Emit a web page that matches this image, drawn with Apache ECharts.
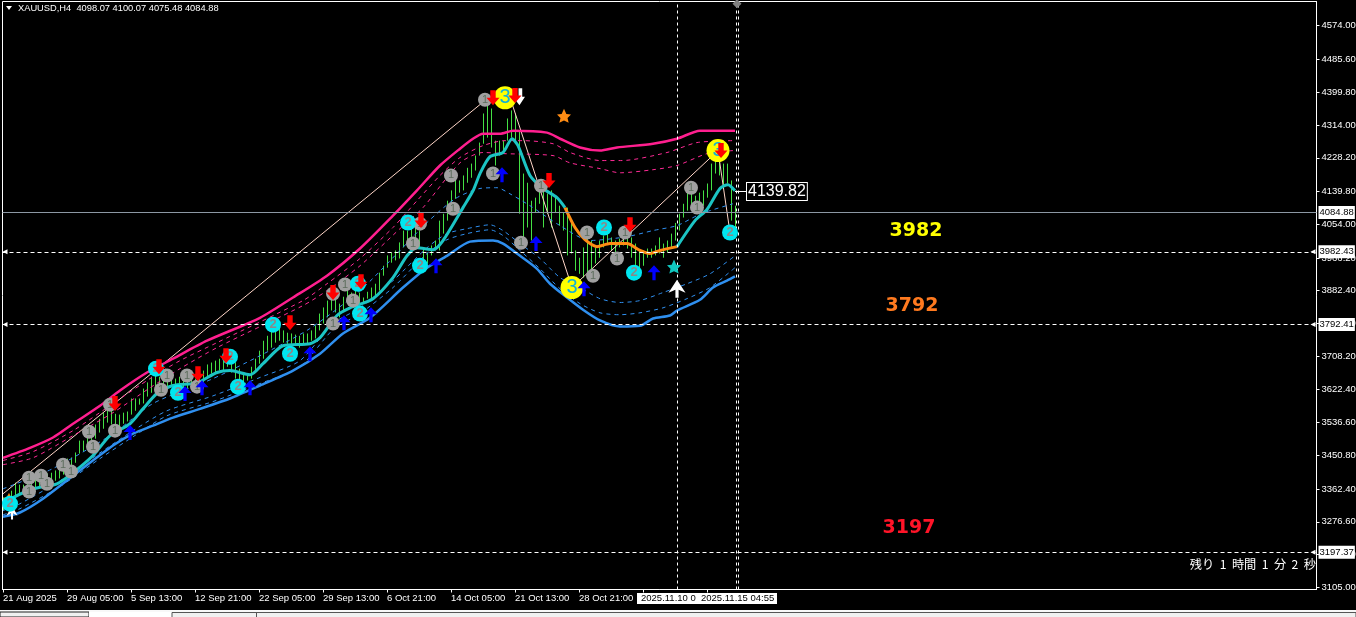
<!DOCTYPE html>
<html><head><meta charset="utf-8">
<style>html,body{margin:0;padding:0;background:#000;overflow:hidden}#c{width:1356px;height:617px}</style>
<script src="https://cdn.jsdelivr.net/npm/echarts@6/dist/echarts.min.js"></script>
</head><body><div id="c"></div>
<script>
const titleText = 'XAUUSD,H4  4098.07 4100.07 4075.48 4084.88';
const countdownText = '残り  1  時間  1  分  2  秒';
const priceTicks = [4574,4485.6,4399.8,4314,4228.2,4139.8,4054,3966.2,3882.4,3796.6,3708.2,3622.4,3536.6,3450.8,3362.4,3276.6,3190.8,3105];
const timeTickBars = [0,16,32,48,64,80,96,112,128,144,160,176];
const timeLabels = ['21 Aug 2025','29 Aug 05:00','5 Sep 13:00','12 Sep 21:00','22 Sep 05:00','29 Sep 13:00','6 Oct 21:00','14 Oct 05:00','21 Oct 13:00','28 Oct 21:00'];
const highs = [3340,3345,3358,3379,3374,3374,3379,3384,3395,3397,3400,3403,3405,3411,3421,3431,3442,3445,3458,3489,3489,3497,3520,3531,3546,3562,3572,3567,3559,3557,3562,3565,3599,3599,3599,3625,3641,3656,3667,3656,3651,3651,3656,3651,3656,3646,3651,3659,3651,3667,3672,3688,3693,3698,3703,3709,3719,3703,3693,3677,3667,3662,3682,3703,3724,3750,3763,3777,3782,3784,3777,3771,3769,3766,3763,3769,3769,3777,3790,3821,3837,3855,3873,3860,3847,3865,3881,3876,3881,3876,3863,3878,3889,3899,3928,3946,3973,3981,3986,4007,4038,4038,4046,4046,4038,3991,3981,3999,4012,4064,4082,4116,4143,4176,4169,4182,4202,4213,4234,4268,4344,4378,4357,4273,4273,4273,4331,4352,4344,4299,4187,4163,4116,4124,4143,4143,4135,4143,4129,4103,4085,4098,4064,3986,3967,3994,4020,4012,3994,4012,4025,4033,4020,4012,4017,4033,4025,4020,4004,3986,3986,3991,3991,3999,4020,4004,4012,4030,4058,4082,4108,4137,4155,4129,4137,4143,4161,4213,4221,4221,4213,4213,4169,4103];
const lows = [3306,3311,3324,3340,3348,3348,3350,3358,3363,3369,3369,3374,3379,3384,3390,3400,3405,3418,3431,3455,3460,3468,3481,3494,3510,3520,3536,3531,3528,3520,3533,3539,3557,3567,3583,3586,3604,3614,3625,3614,3620,3625,3635,3630,3630,3625,3625,3630,3620,3635,3641,3656,3664,3667,3672,3672,3682,3667,3651,3641,3641,3646,3651,3667,3690,3703,3724,3732,3745,3750,3745,3742,3742,3737,3732,3740,3742,3750,3756,3777,3795,3811,3829,3824,3811,3829,3847,3850,3855,3847,3847,3860,3860,3868,3881,3920,3941,3954,3960,3965,3994,3994,3986,3999,3991,3954,3952,3973,3986,3986,4030,4064,4098,4121,4137,4143,4163,4176,4195,4234,4265,4281,4255,4208,4234,4242,4273,4281,4273,4082,4012,4046,4012,4085,4108,4046,4082,4046,4085,4051,4038,3973,3978,3933,3925,3915,3925,3933,3952,3967,3994,4004,3986,3978,3994,3999,3991,3967,3941,3941,3946,3967,3967,3973,3978,3967,3981,3991,4012,4038,4072,4090,4098,4098,4098,4103,4124,4143,4187,4182,4155,4161,4064,4046];

const upperBand = [[0,3444],[6.75,3470],[12.5,3497],[17.5,3533],[24.25,3580],[29.25,3620],[36,3667],[42.5,3703],[51,3750],[64.25,3810],[72.5,3863],[81,3920],[89.25,3991],[97.5,4077],[103.5,4143],[109.25,4208],[114.25,4252],[117.5,4278],[120,4291],[124.25,4291],[127.5,4299],[136,4294],[139.25,4278],[144.25,4255],[149.25,4247],[153.5,4255],[162.5,4265],[168.5,4278],[174.25,4299],[183,4299]];
const upperDash1 = [[0,3437],[7.5,3460],[17.5,3515],[27.5,3586],[36.75,3651],[44.25,3698],[53.5,3745],[75,3855],[81,3899],[89.25,3965],[97.5,4046],[103.5,4116],[109.25,4182],[114.25,4229],[120,4260],[125.5,4273],[130,4273],[137.5,4265],[141.75,4242],[149.25,4221],[154.75,4221],[166,4242],[173.5,4268],[182.5,4273]];
const upperDash2 = [[0,3426],[7.5,3444],[17.5,3502],[27.5,3562],[36.75,3627],[44.25,3677],[53.5,3732],[75,3842],[81,3881],[89.25,3946],[99.25,4043],[105,4098],[114.25,4215],[120,4242],[125.5,4239],[137.5,4234],[141.75,4215],[149.25,4200],[154.25,4189],[162.5,4197],[168.5,4208],[176,4239],[182.5,4247]];
const midRising = [[0,3324],[2.5,3340],[7.5,3363],[13.5,3376],[17.5,3405],[22.5,3450],[26.75,3502],[31.75,3533],[35,3572],[38.5,3612],[42.5,3633],[48.5,3640],[53.5,3667],[56.75,3672],[61.75,3661],[65,3690],[70,3737],[76.75,3742],[79.25,3758],[83.5,3816],[86.75,3836],[92.5,3860],[97.5,3915],[101,3972],[103.5,3993],[107.5,3988],[110,4012],[115,4098],[117.5,4142],[119.25,4187],[121.75,4231],[125,4242],[127.25,4278],[128.75,4260],[131.75,4182],[135,4148],[138.5,4124],[140.5,4098]];
const midFlat = [[140.5,4098],[143,4046],[145.5,4014],[148.5,3996],[151.75,4004],[156,4004],[159.25,3986],[161.75,3978],[164.25,3986],[168.5,3996]];
const midLast = [[168.5,3996],[173,4064],[176,4093],[179.25,4148],[181.25,4158],[183,4142]];
const lowerBand = [[0,3290],[4.25,3301],[10,3337],[17.5,3397],[27.5,3476],[32.5,3507],[37.5,3528],[42.5,3549],[49.25,3572],[56.75,3599],[64.25,3633],[72.5,3672],[79.25,3716],[85,3769],[91.75,3810],[100,3889],[106,3941],[111,3972],[116.75,4009],[122.5,4012],[125,4004],[129.25,3972],[133.5,3938],[136.75,3899],[141,3863],[145,3831],[149.25,3803],[154.25,3787],[159.25,3789],[162.5,3808],[166.75,3816],[168.5,3829],[174.25,3857],[177.5,3889],[181,3907],[183,3918]];
const lowerDashA = [[0,3363],[12.5,3416],[27.5,3507],[37.5,3586],[52.5,3651],[64.25,3711],[76.75,3782],[89.25,3881],[99.25,3986],[106,4059],[113,4121],[119.25,4148],[123.5,4150],[126.75,4134],[131.75,4103],[139.25,4051],[146.75,4012],[156,4022],[162.5,4038],[168.5,4051],[173.5,4077],[176.75,4090],[182.5,4108]];
const lowerDashB = [[0,3306],[4.25,3324],[14.25,3384],[24.25,3457],[32.5,3515],[41,3567],[52.5,3606],[64.25,3654],[74.25,3698],[82.5,3795],[89.25,3836],[97.5,3907],[106,3993],[111,4030],[116,4043],[121.75,4053],[125,4038],[129.25,4004],[134.25,3965],[139.25,3915],[144.25,3889],[149.25,3860],[154.25,3850],[159.25,3855],[165,3876],[171,3899],[176.75,3925],[183,3972]];
const lowerDashC = [[0,3295],[4.25,3311],[14.25,3369],[24.25,3442],[32.5,3499],[41,3554],[52.5,3591],[64.25,3638],[74.25,3682],[82.5,3779],[89.25,3821],[97.5,3889],[106,3978],[111,4014],[116,4030],[121.75,4040],[125,4025],[129.25,3986],[134.25,3938],[139.25,3886],[144.25,3847],[149.25,3823],[154.25,3818],[159.25,3823],[165,3836],[171,3860],[176.75,3889],[183,3941]];
const zigzag = [[0,3350],[38,3672],[120.5,4378],[127,4378],[142.25,3889],[178.75,4247],[181.75,4033]];

const wave1Marks = [[6.5,3392],[6.5,3356],[9.5,3397],[11,3376],[15,3426],[17,3408],[21.5,3512],[22.5,3473],[28,3515],[26.75,3583],[41,3659],[39.5,3622],[46,3659],[48.5,3630],[82.5,3795],[82.5,3873],[85.5,3897],[87.5,3855],[102.5,4004],[112.5,4095],[104.25,4056],[112,4182],[120.5,4380],[122.5,4187],[129.5,4006],[134.5,4155],[153.5,3965],[147.5,3920],[146,4033],[155.5,4033],[172,4150],[173.5,4098]];
const wave2Marks = [[1.75,3324],[38.25,3677],[43.75,3614],[58.75,3630],[56.75,3708],[67.5,3792],[71.75,3716],[88.75,3899],[89.25,3821],[101.25,4059],[104.25,3946],[150.25,4046],[157.75,3928],[181.75,4033]];
const wave3Marks = [[125.5,4385],[142.25,3889],[178.75,4247]];
const sellArrows = [[39,3682],[28,3586],[55.75,3711],[48.75,3664],[71.75,3797],[82.5,3876],[89.5,3904],[104.5,4064],[122.5,4385],[128,4391],[136.5,4169],[156.75,4053],[179.5,4247]];
const buyArrows = [[31.75,3510],[45.5,3612],[49.75,3627],[61.75,3627],[76.75,3716],[85.25,3797],[92,3818],[108.25,3946],[124.75,4184],[133.25,4004],[145.25,3886],[162.75,3928]];
const orangeStars = [[140.25,4338]];
const tealStars = [[167.75,3944]];
const whiteUp = [[168.5,3886]];
const whiteDown = [[129,4388]];
const cornerUp = [[2.25,3301]];
const cornerStar = [[1.5,3337]];

const currentPrice = 4084.88;
const levels = [3982.43, 3792.41, 3197.37];
const levelNames = [['3982',228.25,4037,'#ffff00'],['3792',227.25,3841,'#ff7a1f'],['3197',226.5,3261,'#ff1428']];
const timeLines = [168.5, 183.25, 183.75];
const maValue = 4139.82;

const UI = 'Liberation Sans';
function lineS(data,color,width,dash,z){
  return {type:'line',data:data,symbol:'none',smooth:0.25,silent:true,z:z,clip:true,
    lineStyle:{color:color,width:width,type:dash?[4,4]:'solid'}};
}
function dot(data,color,size,text,fc,fs,z,fw){
  return {type:'scatter',data:data,symbol:'circle',symbolSize:size,z:z,silent:true,
    itemStyle:{color:color,opacity:1},
    label:{show:true,position:'inside',formatter:text,color:fc,fontSize:fs,fontFamily:UI,fontWeight:fw||'normal'}};
}
function mark(data,path,size,color,z,extra){
  return Object.assign({type:'scatter',data:data,symbol:path,symbolSize:size,z:z,silent:true,itemStyle:{color:color,opacity:1}},extra||{});
}
const downArrow='path://M3.5,0H8.5V7H12L6,14L0,7H3.5Z';
const upArrow='path://M4.5,15V7H0L6,0L12,7H7.5V15Z';
const bigUp='path://M6.5,18V10L0,13L8,0L16,13L9.5,10V18Z';
const star5='path://M6,0L8,4.5L12,5L9,8L10,12L6,10L2,12L3,8L0,5L4,4.5Z';

const chart=echarts.init(document.getElementById('c'),null,{renderer:'canvas',width:1356,height:617});
chart.setOption({
  animation:false,backgroundColor:'#000',
  title:{text:titleText,left:18,top:4,padding:0,textStyle:{color:'#fff',fontSize:9.3,fontWeight:'normal',fontFamily:UI}},
  grid:{left:2.5,right:39.5,top:1.5,bottom:27.5,show:true,borderColor:'#fff',borderWidth:1,backgroundColor:'#000',outerBoundsMode:'none'},
  xAxis:{type:'value',min:-0.125,max:328.375,splitLine:{show:false},
    axisLine:{show:true,onZero:false,lineStyle:{color:'#fff'}},
    axisTick:{show:true,length:3,customValues:timeTickBars,lineStyle:{color:'#fff'}},
    axisLabel:{show:true,customValues:timeTickBars.slice(0,timeLabels.length),align:'left',margin:4,color:'#fff',fontSize:9.5,fontFamily:UI,
      formatter:v=>timeLabels[timeTickBars.indexOf(v)]||''}},
  yAxis:{type:'value',position:'right',min:3099.77,max:4636.73,splitLine:{show:false},
    axisLine:{show:true,onZero:false,lineStyle:{color:'#fff'}},
    axisTick:{show:true,length:3,customValues:priceTicks,lineStyle:{color:'#fff'}},
    axisLabel:{show:true,customValues:priceTicks,margin:5,color:'#fff',fontSize:9.5,fontFamily:UI,formatter:v=>v.toFixed(2)}},
  series:[
    {type:'custom',silent:true,z:1,clip:true,data:highs.map((h,i)=>[i,h,lows[i]]),
      renderItem:function(p,api){
        const a=api.coord([api.value(0),api.value(1)]),b=api.coord([api.value(0),api.value(2)]);
        const x=Math.round(a[0])+0.5;
        return {type:'line',shape:{x1:x,y1:a[1],x2:x,y2:b[1]},style:{stroke:'#44e044',lineWidth:1}};
      },
      markLine:{silent:true,symbol:'none',animation:false,
        data:[{yAxis:currentPrice,lineStyle:{color:'#8c98a4',type:'solid',width:1},
            label:{position:'end',distance:2,formatter:currentPrice.toFixed(2),color:'#000',backgroundColor:'#fff',padding:[2,1,1,1],fontSize:9.5,fontFamily:UI}}]
          .concat(levels.map(v=>({yAxis:v,lineStyle:{color:'#fff',type:[4,3],width:1},
            label:{position:'end',distance:2,formatter:v.toFixed(2),color:'#000',backgroundColor:'#fff',padding:[2,1,1,1],fontSize:9.5,fontFamily:UI}})))
          .concat(timeLines.map(v=>({xAxis:v,lineStyle:{color:'#fff',type:[3,3],width:1},label:{show:false}})))
      }},
    {type:'line',data:zigzag,symbol:'none',silent:true,z:2,lineStyle:{color:'#ffd6c8',width:1}},
    lineS(upperBand,'#ff1f8f',2.5,false,3),
    lineS(upperDash1,'#ff2a96',1,true,3),
    lineS(upperDash2,'#ff2a96',1,true,3),
    lineS(lowerBand,'#2f8fef',2.5,false,3),
    lineS(lowerDashA,'#2f8fef',1,true,3),
    lineS(lowerDashB,'#2f8fef',1,true,3),
    lineS(lowerDashC,'#2f8fef',1,true,3),
    lineS(midRising,'#1cc4c4',3,false,4),
    lineS(midFlat,'#ff8c14',3,false,4),
    lineS(midLast,'#1cc4c4',3,false,4),
    mark(cornerStar,star5,12,'#ff8c14',5),
    mark(cornerUp,bigUp,[11,14],'#fff',5),
    dot(wave1Marks,'#a0a0a0',14,'1','#5d6d5d',11,6),
    dot(wave2Marks,'#00e6f0',16,'2','#8a8a8a',13,7,'bold'),
    dot(wave3Marks,'#ffff00',23,'3','#10b0d8',20,8),
    mark(whiteDown,'path://M6,0H10V9H13L7,18L0,9H6Z',[12,17],'#fff',9),
    mark(sellArrows,downArrow,[13,15],'#ff0000',10),
    mark(buyArrows,upArrow,[13,15],'#0000ff',10),
    mark(orangeStars,star5,14,'#ff8c14',10),
    mark(tealStars,star5,14,'#10c8c0',10),
    mark(whiteUp,bigUp,[17,18],'#fff',10),
    {type:'scatter',silent:true,z:11,symbolSize:0,itemStyle:{opacity:1},
      data:levelNames.map(n=>({value:[n[1],n[2]],itemStyle:{opacity:1},label:{show:true,position:'inside',formatter:n[0],color:n[3],fontSize:19,fontWeight:'bold',fontFamily:'DejaVu Sans',opacity:1}}))},
    {type:'scatter',silent:true,z:11,symbol:'triangle',symbolSize:5,symbolRotate:90,itemStyle:{color:'#fff',opacity:1},
      data:levels.flatMap(v=>[[0.5,v],[327.5,v]])},
    {type:'scatter',silent:true,z:11,symbol:'diamond',symbolSize:9,itemStyle:{color:'#808080',opacity:1},data:[[183.5,4631]]},
    {type:'scatter',silent:true,z:11,symbolSize:0,data:[[183,maValue]],
      markLine:{silent:true,symbol:'none',animation:false,
        data:[[{coord:[183,maValue],lineStyle:{color:'#fff',width:1,type:'solid'},
                label:{show:true,position:'end',distance:0,formatter:maValue.toFixed(2),color:'#fff',backgroundColor:'#000',borderColor:'#fff',borderWidth:1,padding:[1,1,0,1],fontSize:16,fontFamily:UI}},
               {coord:[186,maValue]}]]}}
  ],
  graphic:[
    {type:'polygon',shape:{points:[[6,6],[12,6],[9,10]]},style:{fill:'#fff'}},
    {type:'text',x:1316,y:564,style:{text:countdownText,fill:'#fff',font:'12.2px "Noto Sans CJK JP"',textAlign:'right',textVerticalAlign:'middle'}},
    {type:'rect',shape:{x:637,y:593,width:140,height:11},style:{fill:'#fff'},z:50},
    {type:'text',x:641,y:598.5,z:51,style:{text:'2025.11.10 0',fill:'#000',font:'9.5px "Liberation Sans"',textVerticalAlign:'middle'}},
    {type:'text',x:701,y:598.5,z:51,style:{text:'2025.11.15 04:55',fill:'#000',font:'9.5px "Liberation Sans"',textVerticalAlign:'middle'}},
    {type:'rect',shape:{x:0,y:610,width:1356,height:7},style:{fill:'#f0f0f0'},z:40},
    {type:'rect',shape:{x:0,y:610.5,width:1356,height:1},style:{fill:'#fff'},z:41},
    {type:'rect',shape:{x:0,y:612,width:89,height:5},style:{fill:'#f0f0f0',stroke:'#222',lineWidth:1},z:42},
    {type:'rect',shape:{x:89,y:612,width:83,height:5},style:{fill:'#fff'},z:42},
    {type:'rect',shape:{x:172,y:612.5,width:1184,height:5},style:{fill:'#f0f0f0',stroke:'#555',lineWidth:1},z:42},
    {type:'rect',shape:{x:256,y:613,width:1,height:4},style:{fill:'#555'},z:43}
  ]
});
</script></body></html>
